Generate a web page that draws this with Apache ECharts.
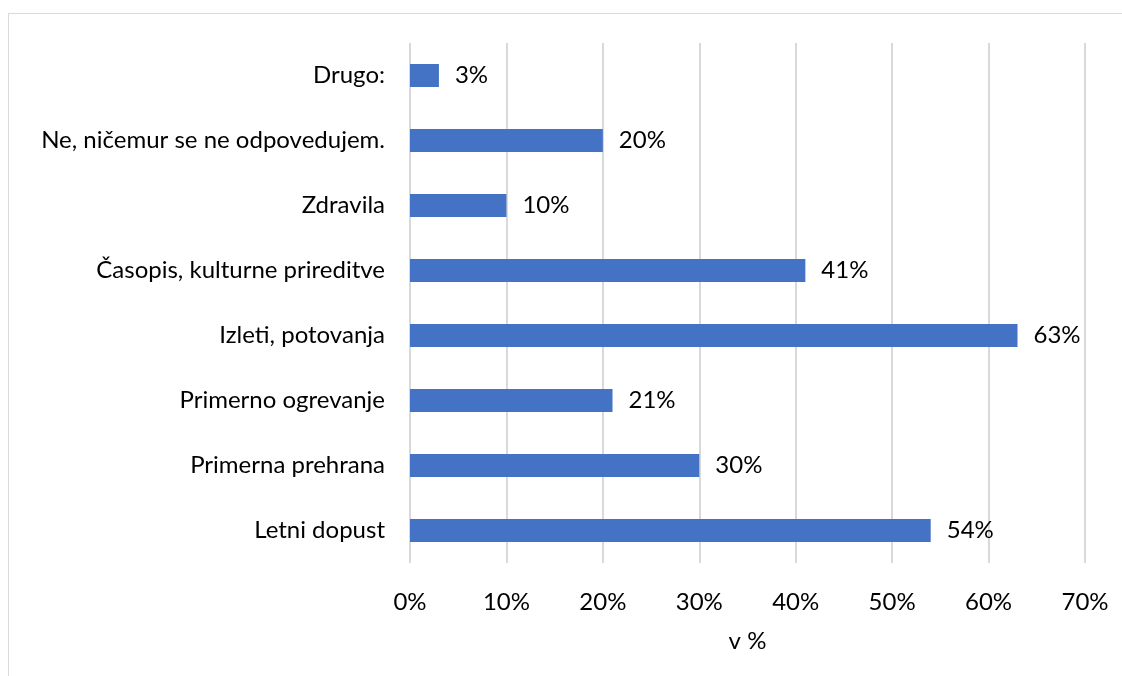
<!DOCTYPE html>
<html>
<head>
<meta charset="utf-8">
<script src="https://cdn.jsdelivr.net/npm/echarts@6/dist/echarts.min.js"></script>
<style>
  html, body { margin: 0; padding: 0; background: #fff; }
  #frame { position: absolute; left: 8px; top: 13px; width: 1200px; height: 700px; border: 1px solid #d9d9d9; box-sizing: border-box; }
  #chart { position: absolute; left: 0; top: 0; width: 1122px; height: 676px; }
</style>
</head>
<body>
<div id="frame"></div>
<div id="chart"></div>
<script>
// bottom-to-top order, as the axis draws them
var categories = ['Letni dopust', 'Primerna prehrana', 'Primerno ogrevanje', 'Izleti, potovanja',
  'Časopis, kulturne prireditve', 'Zdravila', 'Ne, ničemur se ne odpovedujem.', 'Drugo:'];
var values = [54, 30, 21, 63, 41, 10, 20, 3];
var tickStep = 10;
var axisMax = 70;

var chart = echarts.init(document.getElementById('chart'));
var font = 'Lato, "Open Sans", sans-serif';

var option = {
  animation: false,
  grid: { left: 410, right: 37, top: 43, bottom: 113 },
  xAxis: {
    type: 'value',
    min: 0,
    max: axisMax,
    interval: tickStep,
    name: 'v %',
    nameLocation: 'middle',
    nameGap: 66,
    nameTextStyle: { color: '#000', fontSize: 24, fontFamily: font },
    axisLine: { show: false },
    axisTick: { show: false },
    axisLabel: { color: '#000', fontSize: 24, fontFamily: font, margin: 27, formatter: '{value}%' },
    splitLine: { show: true, lineStyle: { color: '#d9d9d9', width: 2 } }
  },
  yAxis: {
    type: 'category',
    data: categories,
    axisLine: { show: false },
    axisTick: { show: false },
    axisLabel: { color: '#000', fontSize: 24, fontFamily: font, margin: 25 }
  },
  series: [{
    type: 'bar',
    data: values,
    barWidth: 23,
    itemStyle: { color: '#4472C4' },
    label: {
      show: true,
      position: 'right',
      distance: 16,
      color: '#000',
      fontSize: 24,
      fontFamily: font,
      formatter: '{c}%'
    }
  }]
};

chart.setOption(option);
</script>
</body>
</html>
